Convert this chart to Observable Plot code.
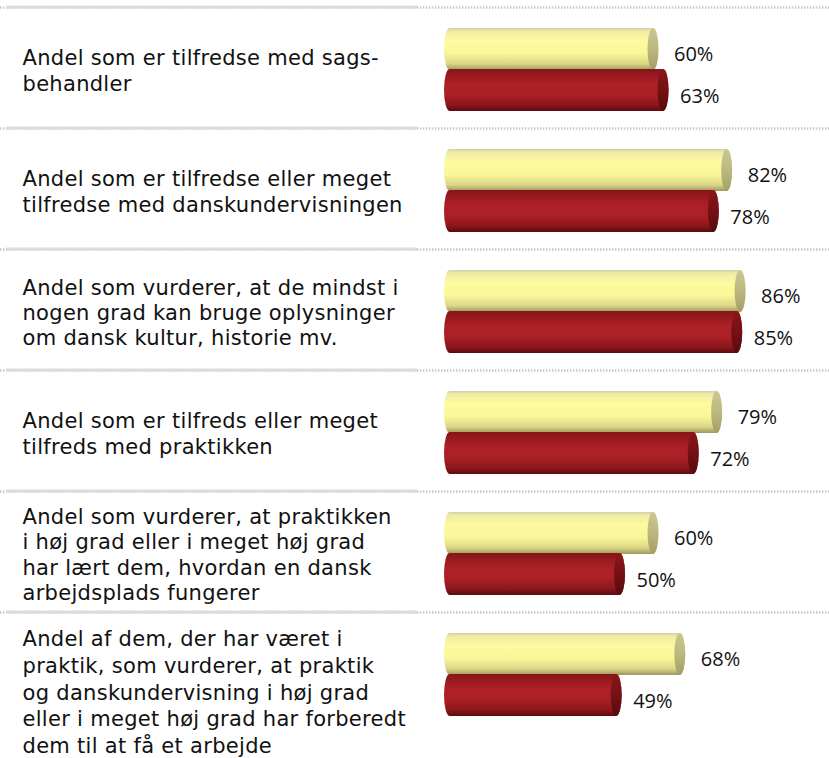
<!DOCTYPE html>
<html>
<head>
<meta charset="utf-8">
<script src="https://cdn.jsdelivr.net/npm/d3@7"></script>
<script src="https://cdn.jsdelivr.net/npm/@observablehq/plot@0.6"></script>
<style>
  html, body { margin: 0; padding: 0; background: #ffffff; }
  #chart svg { display: block; }
</style>
</head>
<body>
<div id="chart"></div>
<script>
// ---- data ----
const categories = [
  "Andel som er tilfredse med sags-\nbehandler",
  "Andel som er tilfredse eller meget\ntilfredse med danskundervisningen",
  "Andel som vurderer, at de mindst i\nnogen grad kan bruge oplysninger\nom dansk kultur, historie mv.",
  "Andel som er tilfreds eller meget\ntilfreds med praktikken",
  "Andel som vurderer, at praktikken\ni høj grad eller i meget høj grad\nhar lært dem, hvordan en dansk\narbejdsplads fungerer",
  "Andel af dem, der har været i\npraktik, som vurderer, at praktik\nog danskundervisning i høj grad\neller i meget høj grad har forberedt\ndem til at få et arbejde"
];
const seriesYellow = [60, 82, 86, 79, 60, 68];
const seriesRed    = [63, 78, 85, 72, 50, 49];

const data = categories.map((c, i) => ({row: c, idx: i, yellow: seriesYellow[i], red: seriesRed[i]}));

// ---- layout ----
const W = 829, H = 758;
const top0 = 7, bw = 121;
const yTop = 21, yBot = bw - 63;   // yellow bar insets
const rTop = 62, rBot = bw - 104;  // red bar insets
const capR = 5.5;

const textFont = "DejaVu Sans, Verdana, sans-serif";
const labelFont = "Open Sans, Liberation Sans, sans-serif";

const plot = Plot.plot({
  width: W,
  height: H,
  margin: 0,
  x: {domain: [0, 100], range: [452, 787], axis: null},
  y: {type: "band", domain: categories, range: [top0, top0 + bw * categories.length], padding: 0, axis: null},
  style: {background: "#ffffff"},
  marks: [
    // dotted separators across the full width
    Plot.ruleY(categories, {y: d => d, dy: -bw / 2, stroke: "#c6c6c6", strokeWidth: 2.5, strokeDasharray: "1.4,1.6"}),
    // solid separator part under the text column
    Plot.cell(categories, {y: d => d, fill: "#dcdcdc", insetLeft: 6, insetRight: W - 417, insetTop: -1.5, insetBottom: bw - 1.5}),

    // yellow cylinders
    Plot.barX(data, {y: "row", x1: () => 0, x2: "yellow", insetTop: yTop, insetBottom: yBot, insetLeft: -8, insetRight: -capR, rx: capR, ry: 21, fill: "url(#gYellow)"}),
    Plot.barX(data, {y: "row", x1: "yellow", x2: "yellow", insetTop: yTop, insetBottom: yBot, insetLeft: -capR, insetRight: -capR, rx: capR, ry: 21, fill: "url(#gYellowCap)"}),
    // red cylinders
    Plot.barX(data, {y: "row", x1: () => 0, x2: "red", insetTop: rTop, insetBottom: rBot, insetLeft: -8, insetRight: -capR, rx: capR, ry: 21, fill: "url(#gRed)"}),
    Plot.barX(data, {y: "row", x1: "red", x2: "red", insetTop: rTop, insetBottom: rBot, insetLeft: -capR, insetRight: -capR, rx: capR, ry: 21, fill: "url(#gRedCap)"}),

    // value labels
    Plot.text(data, {y: "row", x: "yellow", text: d => `${d.yellow}%`, dx: capR + 15, dy: -13.5, textAnchor: "start", fontFamily: labelFont, fontSize: 20, fill: "#111111"}),
    Plot.text(data, {y: "row", x: "red", text: d => `${d.red}%`, dx: capR + 11, dy: 28.5, textAnchor: "start", fontFamily: labelFont, fontSize: 20, fill: "#111111"}),

    // category texts
    Plot.text(data.filter(d => d.idx < 5), {y: "row", text: "row", frameAnchor: "left", dx: 22, dy: 2, textAnchor: "start", lineAnchor: "middle", lineHeight: 1.2, fontFamily: textFont, fontSize: 21, fill: "#111111"}),
    Plot.text(data.filter(d => d.idx === 5), {y: "row", text: "row", frameAnchor: "left", dx: 22, dy: 18, textAnchor: "start", lineAnchor: "middle", lineHeight: 1.27, fontFamily: textFont, fontSize: 21, fill: "#111111"})
  ]
});

// gradient definitions for the cylinder look
const ns = "http://www.w3.org/2000/svg";
const defs = document.createElementNS(ns, "defs");
function grad(id, stops) {
  const g = document.createElementNS(ns, "linearGradient");
  g.setAttribute("id", id);
  g.setAttribute("x1", "0"); g.setAttribute("y1", "0");
  g.setAttribute("x2", "0"); g.setAttribute("y2", "1");
  for (const [o, c] of stops) {
    const s = document.createElementNS(ns, "stop");
    s.setAttribute("offset", o);
    s.setAttribute("stop-color", c);
    g.appendChild(s);
  }
  defs.appendChild(g);
}
grad("gYellow", [["0", "#cfcdaf"], ["0.07", "#eeeba4"], ["0.3", "#fdfa9f"], ["0.6", "#faf69a"], ["0.85", "#dcd787"], ["1", "#9c985e"]]);
grad("gYellowCap", [["0", "#c9c693"], ["0.5", "#bcb87f"], ["1", "#a29e66"]]);
grad("gRed", [["0", "#861519"], ["0.35", "#ad2027"], ["0.6", "#ac2027"], ["0.85", "#8c171c"], ["1", "#5c0b0e"]]);
grad("gRedCap", [["0", "#8a161a"], ["0.5", "#741114"], ["1", "#560b0d"]]);
plot.insertBefore(defs, plot.firstChild);

// slight letter spacing on the category text
const textGroups = plot.querySelectorAll('g[aria-label="text"]');
textGroups.forEach((g, i) => { if (i >= 2) g.setAttribute("letter-spacing", "0.3"); });

document.getElementById("chart").appendChild(plot);
</script>
</body>
</html>
